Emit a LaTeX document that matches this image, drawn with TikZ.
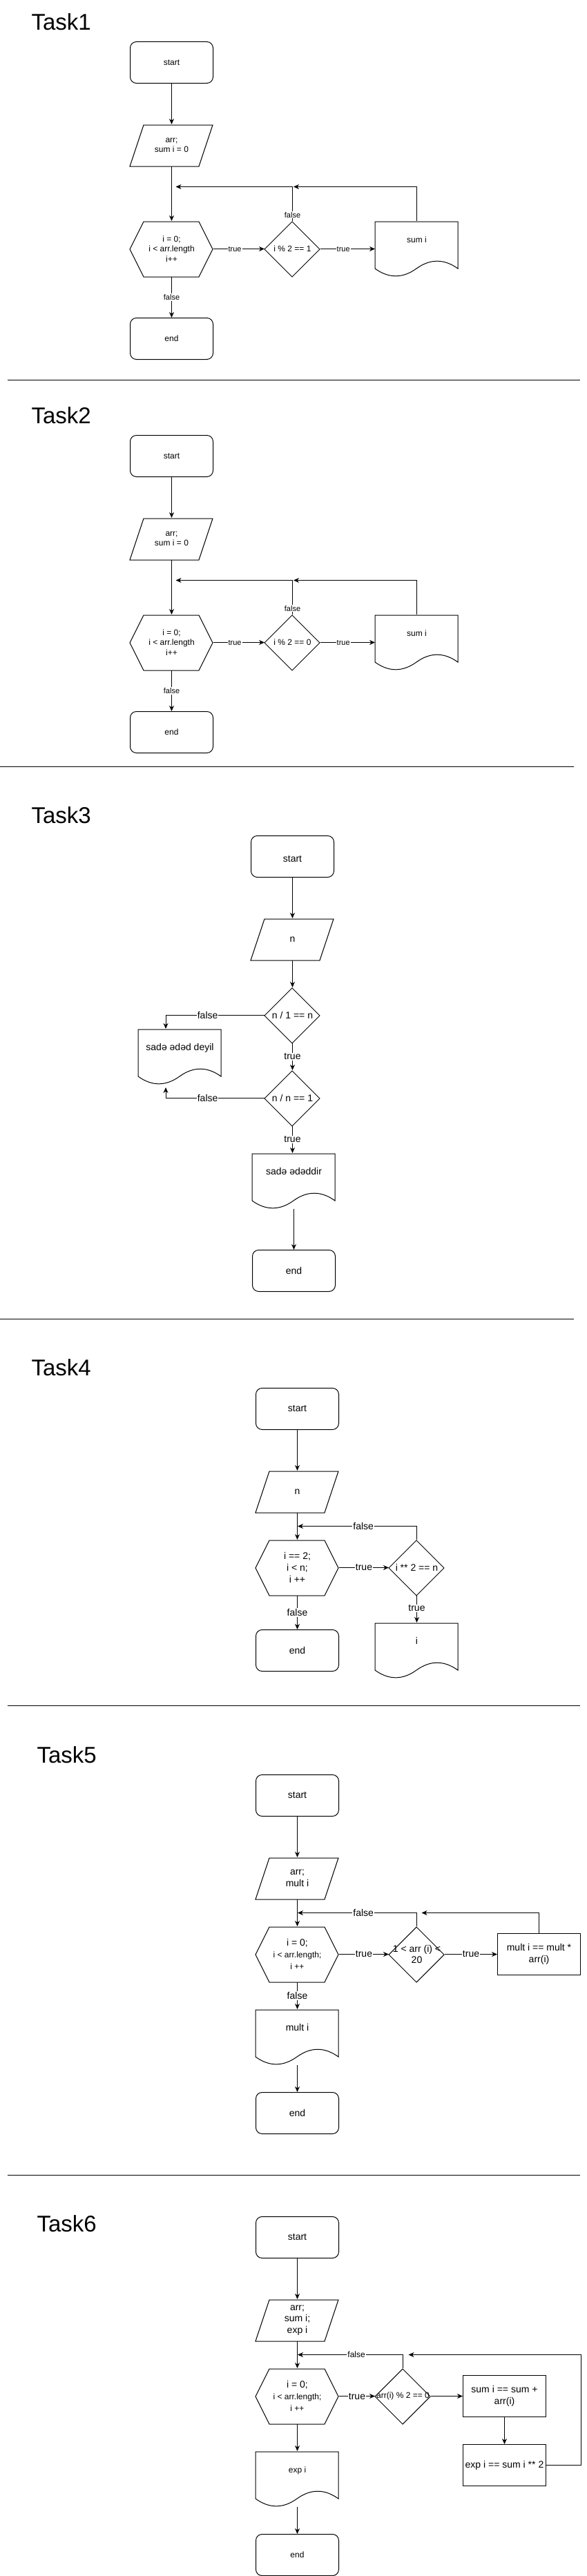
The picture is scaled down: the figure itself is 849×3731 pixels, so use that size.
\documentclass[tikz,border=0pt]{standalone}
\usepackage{fontspec}
\setmainfont{Liberation Sans}
\usetikzlibrary{arrows.meta}

\newcommand\ftitle{\fontsize{33}{40}\selectfont}
\newcommand\fbig{\fontsize{14}{16.8}\selectfont}
\newcommand\fmid{\fontsize{12}{14.4}\selectfont}
\newcommand\fsmall{\fontsize{11}{13.2}\selectfont}

\tikzset{
  box/.style = {rectangle, inner sep=2pt, align=center, font=\fbig, minimum width=120pt, minimum height=60pt},
  term/.style = {box, draw, rounded corners=9pt},
  proc/.style = {box, draw},
  inout/.style = {box, append after command={\pgfextra{\draw[shift={(\tikzlastnode.south west)}]
      (0pt,0pt) -- (100pt,0pt) -- (120pt,60pt) -- (20pt,60pt) -- cycle;}}},
  loopbox/.style = {box, minimum height=80pt, append after command={\pgfextra{\draw[shift={(\tikzlastnode.south west)}]
      (0pt,40pt) -- (20pt,80pt) -- (100pt,80pt) -- (120pt,40pt) -- (100pt,0pt) -- (20pt,0pt) -- cycle;}}},
  decision/.style = {box, inner sep=0pt, minimum width=80pt, minimum height=80pt, append after command={\pgfextra{\draw[shift={(\tikzlastnode.south west)}]
      (40pt,0pt) -- (80pt,40pt) -- (40pt,80pt) -- (0pt,40pt) -- cycle;}}},
  doc/.style = {box, minimum height=80pt, text height=9pt, text depth=27pt, append after command={\pgfextra{\draw[shift={(\tikzlastnode.south west)}]
      (0pt,80pt) -- (120pt,80pt) -- (120pt,12pt) .. controls (100pt,26.4pt) and (80pt,26.4pt) .. (60pt,12pt)
      .. controls (40pt,-2.4pt) and (20pt,-2.4pt) .. (0pt,12pt) -- cycle;}}},
  lbl/.style = {fill=white, inner sep=1pt, font=\fbig},
  lblsm/.style = {lbl, font=\fsmall},
  title/.style = {anchor=base west, inner sep=0pt, font=\ftitle}
}

\begin{document}
\begin{tikzpicture}[x=1pt, y=-1pt, line width=1pt, >={Stealth[length=8pt,width=7pt,inset=2.5pt]}]
\useasboundingbox (0,0) rectangle (849,3731);

% Task1
\node[title] (t1) at (45,43.3) {Task1};
\node[term, font=\fmid] (s1) at (248.5,90.5) {start};
\node[inout, font=\fmid] (io1) at (248.5,210.5) {arr;\\sum i = 0};
\node[loopbox, font=\fmid] (h1) at (248.5,360.5) {i = 0;\\i < arr.length\\i++};
\node[decision, font=\fmid] (d1) at (423.5,360.5) {i \% 2 == 1};
\node[doc, font=\fmid] (doc1) at (603.5,360.5) {sum i};
\node[term, font=\fmid] (e1) at (248.5,490.5) {end};
\coordinate (j1a) at (254.5,270.5);
\coordinate (j1b) at (425,270.5);

\draw[->] (s1) -- (io1);
\draw[->] (io1) -- (h1);
\draw[->] (h1.east) -- node[lblsm, pos=.42] {true} (d1.west);
\draw[->] (d1.east) -- node[lblsm, pos=.42] {true} (doc1.west);
\draw[->] (d1.north) |- node[lblsm, pos=.09] {false} (j1a);
\draw[->] (doc1.north) |- (j1b);
\draw[->] (h1) -- node[lblsm] {false} (e1);

\draw (10.8,550.5) -- (840.3,550.5);

% Task2
\node[title] (t2) at (45,613.4) {Task2};
\node[term, font=\fmid] (s2) at (248.5,660.5) {start};
\node[inout, font=\fmid] (io2) at (248.5,780.5) {arr;\\sum i = 0};
\node[loopbox, font=\fmid] (h2) at (248.5,930.5) {i = 0;\\i < arr.length\\i++};
\node[decision, font=\fmid] (d2) at (423.5,930.5) {i \% 2 == 0};
\node[doc, font=\fmid] (doc2) at (603.5,930.5) {sum i};
\node[term, font=\fmid] (e2) at (248.5,1060.5) {end};
\coordinate (j2a) at (254.5,840.5);
\coordinate (j2b) at (425,840.5);

\draw[->] (s2) -- (io2);
\draw[->] (io2) -- (h2);
\draw[->] (h2.east) -- node[lblsm, pos=.42] {true} (d2.west);
\draw[->] (d2.east) -- node[lblsm, pos=.42] {true} (doc2.west);
\draw[->] (d2.north) |- node[lblsm, pos=.09] {false} (j2a);
\draw[->] (doc2.north) |- (j2b);
\draw[->] (h2) -- node[lblsm] {false} (e2);

\draw (0,1110) -- (831,1110);

% Task3
\node[title] (t3) at (45,1192.9) {Task3};
\node[term] (s3) at (423.5,1240.5) {\mbox{}\\start};
\node[inout] (io3) at (423.5,1360.5) {n};
\node[decision] (d3a) at (423.5,1470.5) {n / 1 == n};
\node[decision] (d3b) at (423.5,1590.5) {n / n == 1};
\node[doc] (doc3a) at (260.5,1530.5) {sadə ədəd deyil};
\node[doc] (doc3b) at (425.5,1710.5) {sadə ədəddir};
\node[term] (e3) at (425.5,1840.5) {end};

\draw[->] (s3) -- (io3);
\draw[->] (io3) -- (d3a);
\draw[->] (d3a.west) -| node[lbl, pos=.288] {false} ([xshift=40pt]doc3a.north west);
\draw[->] (d3a) -- node[lbl] {true} (d3b);
\draw[->] (d3b.west) -| node[lbl, pos=.288] {false} ([xshift=40pt,yshift=-4pt]doc3a.south west);
\draw[->] (d3b.south) -- node[lbl] {true} (d3b.south |- doc3b.north);
\draw[->] (doc3b) -- (e3);

\draw (0,1910.5) -- (831,1910.5);

% Task4
\node[title] (t4) at (45,1992.7) {Task4};
\node[term] (s4) at (430.5,2040.5) {start};
\node[inout] (io4) at (430.5,2160.5) {n};
\node[loopbox] (h4) at (430.5,2270.5) {i == 2;\\i < n;\\i ++};
\node[decision] (d4) at (603.5,2270.5) {i ** 2 == n};
\node[doc] (doc4) at (603.5,2390.5) {i};
\node[term] (e4) at (430.5,2390.5) {end};
\coordinate (j4) at (431,2210.5);

\draw[->] (s4) -- (io4);
\draw[->] (io4) -- (h4);
\draw[->] (h4.east) -- node[lbl] {true} (d4.west);
\draw[->] (d4.north) |- node[lbl, pos=.724] {false} (j4);
\draw[->] (d4) -- node[lbl, pos=.47] {true} (doc4);
\draw[->] (h4) -- node[lbl] {false} (e4);

\draw (10.8,2470.5) -- (840.3,2470.5);

% Task5
\node[title] (t5) at (53,2553.2) {Task5};
\node[term] (s5) at (430.5,2600.5) {start};
\node[inout] (io5) at (430.5,2720.5) {arr;\\mult i};
\node[loopbox] (h5) at (430.5,2830.5) {i = 0;\\{\fmid i < arr.length;}\\{\fmid i ++}};
\node[decision] (d5) at (603.5,2830.5) {1 < arr (i) <\\20};
\node[proc] (r5) at (780.5,2830.5) {mult i == mult *\\arr(i)};
\node[doc] (doc5) at (430.5,2950.5) {mult i};
\node[term] (e5) at (430.5,3060.5) {end};
\coordinate (j5a) at (431,2770.5);
\coordinate (j5b) at (610.5,2770.5);

\draw[->] (s5) -- (io5);
\draw[->] (io5) -- (h5);
\draw[->] (h5.east) -- node[lbl] {true} (d5.west);
\draw[->] (d5.east) -- node[lbl] {true} (r5.west);
\draw[->] (d5.north) |- node[lbl, pos=.724] {false} (j5a);
\draw[->] (r5.north) |- (j5b);
\draw[->] (h5) -- node[lbl] {false} (doc5);
\draw[->] (doc5) -- (e5);

\draw (10.8,3150.5) -- (840.3,3150.5);

% Task6
\node[title] (t6) at (53,3232.8) {Task6};
\node[term] (s6) at (430.5,3240.5) {start};
\node[inout] (io6) at (430.5,3360.5) {arr;\\sum i;\\exp i};
\node[loopbox] (h6) at (430.5,3470.5) {i = 0;\\{\fmid i < arr.length;}\\{\fmid i ++}};
\node[decision, font=\fmid] (d6) at (583.5,3470.5) {arr(i) \% 2 == 0};
\node[proc] (r6a) at (730.5,3470.5) {sum i == sum +\\arr(i)};
\node[proc] (r6b) at (730.5,3570.5) {exp i == sum i ** 2};
\node[doc, font=\fmid] (doc6) at (430.5,3590.5) {exp i};
\node[term, font=\fmid] (e6) at (430.5,3700.5) {end};
\coordinate (j6a) at (431,3410.5);
\coordinate (j6b) at (591.5,3410.5);

\draw[->] (s6) -- (io6);
\draw[->] (io6) -- (h6);
\draw[->] (h6.east) -- node[lbl] {true} (d6.west);
\draw[->] (d6.east) -- (r6a.west);
\draw[->] (d6.north) |- node[lbl, font=\fmid, pos=.721] {false} (j6a);
\draw[->] (r6a) -- (r6b);
\draw[->] (r6b.east) -- ++(50,0) |- (j6b);
\draw[->] (h6) -- (doc6);
\draw[->] (doc6) -- (e6);
\end{tikzpicture}
\end{document}
